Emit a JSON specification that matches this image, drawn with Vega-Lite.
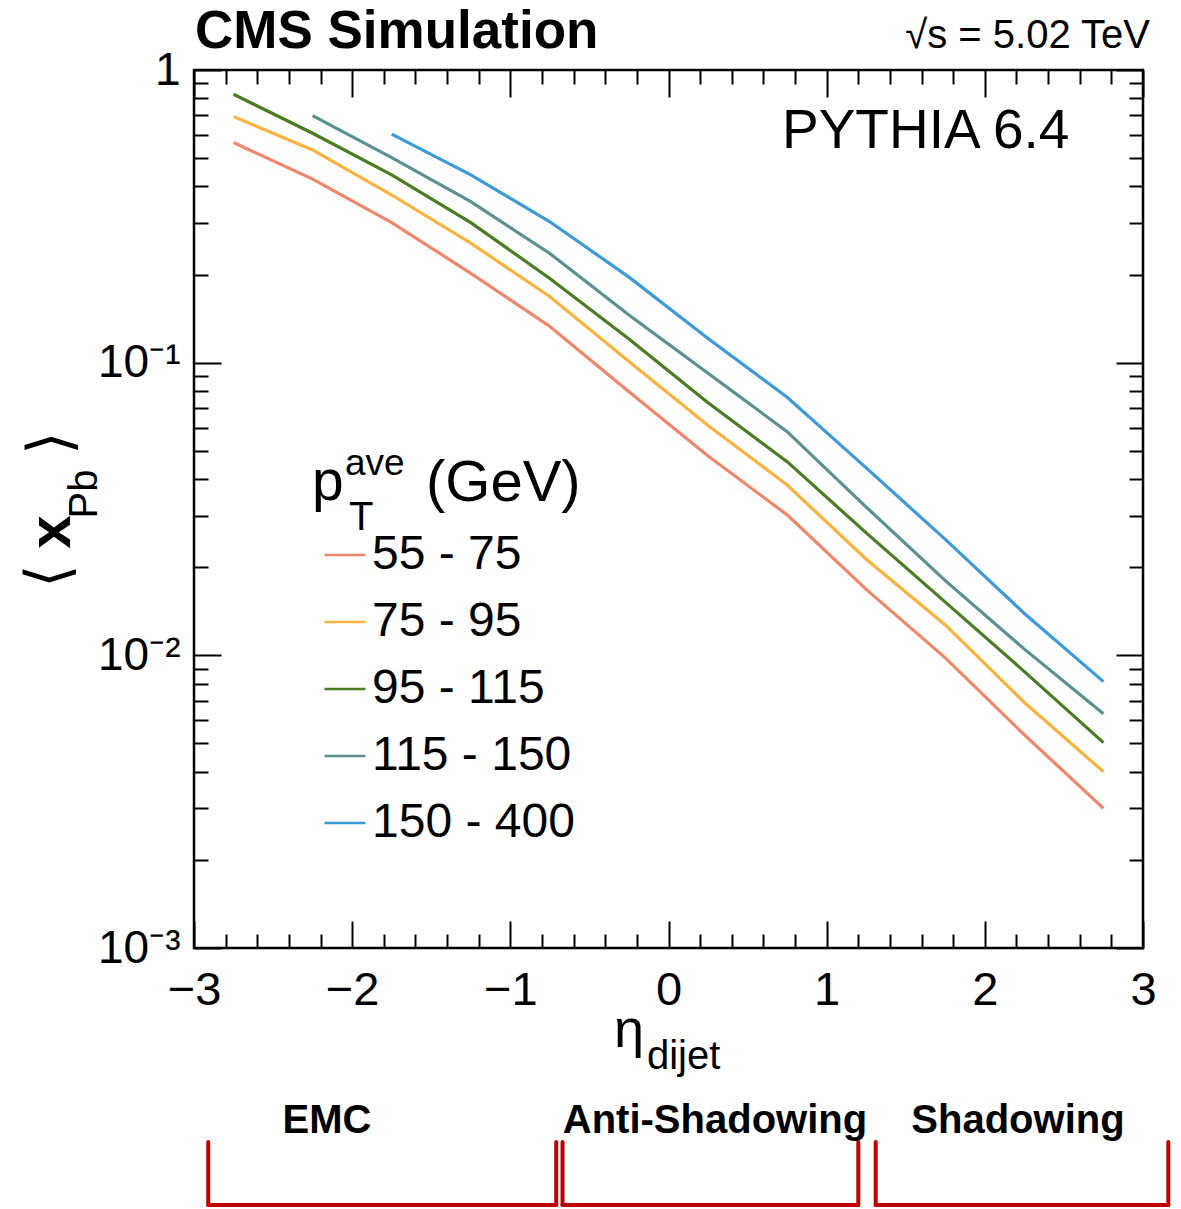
{
  "$schema": "https://vega.github.io/schema/vega-lite/v6.json",
  "width": 949,
  "height": 878,
  "autosize": "none",
  "padding": {"left": 194, "top": 70, "right": 38, "bottom": 261},
  "background": "white",
  "config": {
    "view": {"stroke": "black", "strokeWidth": 2.5},
    "font": "Liberation Sans",
    "text": {"font": "Liberation Sans", "color": "black"}
  },
  "datasets": {
    "curves": [
      {"pt": "55 - 75", "eta": -2.75, "xpb": 0.565},
      {"pt": "55 - 75", "eta": -2.25, "xpb": 0.424},
      {"pt": "55 - 75", "eta": -1.75, "xpb": 0.301},
      {"pt": "55 - 75", "eta": -1.25, "xpb": 0.202},
      {"pt": "55 - 75", "eta": -0.75, "xpb": 0.133},
      {"pt": "55 - 75", "eta": -0.25, "xpb": 0.0796},
      {"pt": "55 - 75", "eta": 0.25, "xpb": 0.048},
      {"pt": "55 - 75", "eta": 0.75, "xpb": 0.0302},
      {"pt": "55 - 75", "eta": 1.25, "xpb": 0.0168},
      {"pt": "55 - 75", "eta": 1.75, "xpb": 0.0098},
      {"pt": "55 - 75", "eta": 2.25, "xpb": 0.00535},
      {"pt": "55 - 75", "eta": 2.75, "xpb": 0.0030},
      {"pt": "75 - 95", "eta": -2.75, "xpb": 0.693},
      {"pt": "75 - 95", "eta": -2.25, "xpb": 0.533},
      {"pt": "75 - 95", "eta": -1.75, "xpb": 0.374},
      {"pt": "75 - 95", "eta": -1.25, "xpb": 0.256},
      {"pt": "75 - 95", "eta": -0.75, "xpb": 0.168},
      {"pt": "75 - 95", "eta": -0.25, "xpb": 0.101},
      {"pt": "75 - 95", "eta": 0.25, "xpb": 0.061},
      {"pt": "75 - 95", "eta": 0.75, "xpb": 0.0382},
      {"pt": "75 - 95", "eta": 1.25, "xpb": 0.0213},
      {"pt": "75 - 95", "eta": 1.75, "xpb": 0.0127},
      {"pt": "75 - 95", "eta": 2.25, "xpb": 0.0069},
      {"pt": "75 - 95", "eta": 2.75, "xpb": 0.0040},
      {"pt": "95 - 115", "eta": -2.75, "xpb": 0.826},
      {"pt": "95 - 115", "eta": -2.25, "xpb": 0.608},
      {"pt": "95 - 115", "eta": -1.75, "xpb": 0.438},
      {"pt": "95 - 115", "eta": -1.25, "xpb": 0.301},
      {"pt": "95 - 115", "eta": -0.75, "xpb": 0.194},
      {"pt": "95 - 115", "eta": -0.25, "xpb": 0.1205},
      {"pt": "95 - 115", "eta": 0.25, "xpb": 0.073},
      {"pt": "95 - 115", "eta": 0.75, "xpb": 0.0459},
      {"pt": "95 - 115", "eta": 1.25, "xpb": 0.0262},
      {"pt": "95 - 115", "eta": 1.75, "xpb": 0.0152},
      {"pt": "95 - 115", "eta": 2.25, "xpb": 0.0088},
      {"pt": "95 - 115", "eta": 2.75, "xpb": 0.00503},
      {"pt": "115 - 150", "eta": -2.25, "xpb": 0.698},
      {"pt": "115 - 150", "eta": -1.75, "xpb": 0.502},
      {"pt": "115 - 150", "eta": -1.25, "xpb": 0.355},
      {"pt": "115 - 150", "eta": -0.75, "xpb": 0.236},
      {"pt": "115 - 150", "eta": -0.25, "xpb": 0.1455},
      {"pt": "115 - 150", "eta": 0.25, "xpb": 0.092},
      {"pt": "115 - 150", "eta": 0.75, "xpb": 0.0581},
      {"pt": "115 - 150", "eta": 1.25, "xpb": 0.0321},
      {"pt": "115 - 150", "eta": 1.75, "xpb": 0.018},
      {"pt": "115 - 150", "eta": 2.25, "xpb": 0.0105},
      {"pt": "115 - 150", "eta": 2.75, "xpb": 0.00631},
      {"pt": "150 - 400", "eta": -1.75, "xpb": 0.604},
      {"pt": "150 - 400", "eta": -1.25, "xpb": 0.438},
      {"pt": "150 - 400", "eta": -0.75, "xpb": 0.303},
      {"pt": "150 - 400", "eta": -0.25, "xpb": 0.196},
      {"pt": "150 - 400", "eta": 0.25, "xpb": 0.121},
      {"pt": "150 - 400", "eta": 0.75, "xpb": 0.0762},
      {"pt": "150 - 400", "eta": 1.25, "xpb": 0.0437},
      {"pt": "150 - 400", "eta": 1.75, "xpb": 0.0249},
      {"pt": "150 - 400", "eta": 2.25, "xpb": 0.0139},
      {"pt": "150 - 400", "eta": 2.75, "xpb": 0.00813}
    ],
    "regions": [
      {"region": "EMC", "eta_from": -2.91, "eta_to": -0.71},
      {"region": "Anti-Shadowing", "eta_from": -0.67, "eta_to": 1.2},
      {"region": "Shadowing", "eta_from": 1.31, "eta_to": 3.16}
    ],
    "one": [{}]
  },
  "resolve": {"axis": {"x": "independent", "y": "independent"}},
  "layer": [
    {
      "data": {"name": "curves"},
      "mark": {"type": "line", "strokeWidth": 3.2},
      "encoding": {
        "x": {
          "field": "eta", "type": "quantitative",
          "scale": {"domain": [-3, 3], "nice": false, "zero": false},
          "axis": {
            "orient": "bottom", "title": null, "domain": false, "grid": false,
            "values": [-3, -2.8, -2.6, -2.4, -2.2, -2, -1.8, -1.6, -1.4, -1.2, -1, -0.8, -0.6, -0.4, -0.2, 0, 0.2, 0.4, 0.6, 0.8, 1, 1.2, 1.4, 1.6, 1.8, 2, 2.2, 2.4, 2.6, 2.8, 3],
            "tickSize": {"condition": {"test": "abs(datum.value - round(datum.value)) < 0.001", "value": -27}, "value": -14},
            "tickColor": "black", "tickWidth": 2,
            "labelExpr": "abs(datum.value - round(datum.value)) < 0.001 ? (round(datum.value) < 0 ? '−' + abs(round(datum.value)) : '' + round(datum.value)) : ''",
            "labelFont": "Liberation Sans", "labelFontSize": 47, "labelColor": "black",
            "labelPadding": 46, "labelFlush": false, "labelOverlap": false, "labelBound": false
          }
        },
        "y": {
          "field": "xpb", "type": "quantitative",
          "scale": {"type": "log", "domain": [0.001, 1], "nice": false},
          "axis": {
            "orient": "left", "title": null, "domain": false, "grid": false,
            "values": [0.001, 0.002, 0.003, 0.004, 0.005, 0.006, 0.007, 0.008, 0.009, 0.01, 0.02, 0.03, 0.04, 0.05, 0.06, 0.07, 0.08, 0.09, 0.1, 0.2, 0.3, 0.4, 0.5, 0.6, 0.7, 0.8, 0.9, 1],
            "tickSize": {"condition": {"test": "abs(log(datum.value)/LN10 - round(log(datum.value)/LN10)) < 0.001", "value": -27}, "value": -14},
            "tickColor": "black", "tickWidth": 2,
            "labelExpr": "abs(datum.value - 1) < 1e-6 ? '1' : abs(datum.value - 0.1) < 1e-6 ? '10⁻¹' : abs(datum.value - 0.01) < 1e-7 ? '10⁻²' : abs(datum.value - 0.001) < 1e-8 ? '10⁻³' : ''",
            "labelFont": "Liberation Sans", "labelFontSize": 46, "labelColor": "black",
            "labelPadding": 41, "labelFlush": false, "labelOverlap": false, "labelBound": false
          }
        },
        "color": {
          "field": "pt", "type": "nominal",
          "scale": {
            "domain": ["55 - 75", "75 - 95", "95 - 115", "115 - 150", "150 - 400"],
            "range": ["#f0876a", "#f9b33e", "#4a7d22", "#5a9090", "#3c9bd6"]
          },
          "legend": {
            "orient": "none", "legendX": 127, "legendY": 461, "title": null,
            "symbolType": "stroke", "symbolSize": 1681, "symbolStrokeWidth": 2.5,
            "labelFont": "Liberation Sans", "labelFontSize": 48, "labelColor": "black",
            "labelOffset": 3, "rowPadding": 19, "padding": 0, "labelLimit": 400
          }
        }
      }
    },
    {
      "data": {"values": []},
      "mark": {"type": "line"},
      "encoding": {
        "x": {
          "field": "eta", "type": "quantitative",
          "scale": {"domain": [-3, 3], "nice": false, "zero": false},
          "axis": {
            "orient": "top", "title": null, "domain": false, "grid": false, "labels": false,
            "values": [-3, -2.8, -2.6, -2.4, -2.2, -2, -1.8, -1.6, -1.4, -1.2, -1, -0.8, -0.6, -0.4, -0.2, 0, 0.2, 0.4, 0.6, 0.8, 1, 1.2, 1.4, 1.6, 1.8, 2, 2.2, 2.4, 2.6, 2.8, 3],
            "tickSize": {"condition": {"test": "abs(datum.value - round(datum.value)) < 0.001", "value": -27}, "value": -14},
            "tickColor": "black", "tickWidth": 2
          }
        },
        "y": {
          "field": "xpb", "type": "quantitative",
          "scale": {"type": "log", "domain": [0.001, 1], "nice": false},
          "axis": {
            "orient": "right", "title": null, "domain": false, "grid": false, "labels": false,
            "values": [0.001, 0.002, 0.003, 0.004, 0.005, 0.006, 0.007, 0.008, 0.009, 0.01, 0.02, 0.03, 0.04, 0.05, 0.06, 0.07, 0.08, 0.09, 0.1, 0.2, 0.3, 0.4, 0.5, 0.6, 0.7, 0.8, 0.9, 1],
            "tickSize": {"condition": {"test": "abs(log(datum.value)/LN10 - round(log(datum.value)/LN10)) < 0.001", "value": -27}, "value": -14},
            "tickColor": "black", "tickWidth": 2
          }
        }
      }
    },
    {
      "data": {"name": "regions"},
      "mark": {"type": "rule", "color": "#c00000", "strokeWidth": 4, "strokeCap": "round"},
      "encoding": {
        "x": {"field": "eta_from", "type": "quantitative", "axis": null},
        "y": {"datum": 0.0002174, "type": "quantitative", "scale": {"type": "log"}, "axis": null},
        "y2": {"datum": 0.00013235}
      }
    },
    {
      "data": {"name": "regions"},
      "mark": {"type": "rule", "color": "#c00000", "strokeWidth": 4, "strokeCap": "round"},
      "encoding": {
        "x": {"field": "eta_to", "type": "quantitative", "axis": null},
        "y": {"datum": 0.0002174, "type": "quantitative", "scale": {"type": "log"}, "axis": null},
        "y2": {"datum": 0.00013235}
      }
    },
    {
      "data": {"name": "regions"},
      "mark": {"type": "rule", "color": "#c00000", "strokeWidth": 4, "strokeCap": "round"},
      "encoding": {
        "x": {"field": "eta_from", "type": "quantitative", "axis": null},
        "x2": {"field": "eta_to"},
        "y": {"datum": 0.00013235, "type": "quantitative", "scale": {"type": "log"}, "axis": null}
      }
    },
    {
      "data": {"name": "one"},
      "mark": {"type": "text", "text": "CMS Simulation", "fontSize": 53, "fontWeight": "bold", "align": "left", "baseline": "alphabetic"},
      "encoding": {
        "x": {"datum": -2.9937, "type": "quantitative", "axis": null},
        "y": {"datum": 1.189, "type": "quantitative", "scale": {"type": "log"}, "axis": null}
      }
    },
    {
      "data": {"name": "one"},
      "mark": {"type": "text", "text": "√s = 5.02 TeV", "fontSize": 40, "align": "right", "baseline": "alphabetic"},
      "encoding": {
        "x": {"datum": 3.0441, "type": "quantitative", "axis": null},
        "y": {"datum": 1.189, "type": "quantitative", "scale": {"type": "log"}, "axis": null}
      }
    },
    {
      "data": {"name": "one"},
      "mark": {"type": "text", "text": "PYTHIA 6.4", "fontSize": 55, "align": "left", "baseline": "alphabetic"},
      "encoding": {
        "x": {"datum": 0.7176, "type": "quantitative", "axis": null},
        "y": {"datum": 0.5414, "type": "quantitative", "scale": {"type": "log"}, "axis": null}
      }
    },
    {
      "data": {"name": "one"},
      "mark": {"type": "text", "text": "p", "fontSize": 57, "align": "left", "baseline": "alphabetic"},
      "encoding": {
        "x": {"datum": -2.254, "type": "quantitative", "axis": null},
        "y": {"datum": 0.03395, "type": "quantitative", "scale": {"type": "log"}, "axis": null}
      }
    },
    {
      "data": {"name": "one"},
      "mark": {"type": "text", "text": "T", "fontSize": 40, "align": "left", "baseline": "alphabetic"},
      "encoding": {
        "x": {"datum": -2.02, "type": "quantitative", "axis": null},
        "y": {"datum": 0.02682, "type": "quantitative", "scale": {"type": "log"}, "axis": null}
      }
    },
    {
      "data": {"name": "one"},
      "mark": {"type": "text", "text": "ave", "fontSize": 37, "align": "left", "baseline": "alphabetic"},
      "encoding": {
        "x": {"datum": -2.0453, "type": "quantitative", "axis": null},
        "y": {"datum": 0.04132, "type": "quantitative", "scale": {"type": "log"}, "axis": null}
      }
    },
    {
      "data": {"name": "one"},
      "mark": {"type": "text", "text": "(GeV)", "fontSize": 58, "align": "left", "baseline": "alphabetic"},
      "encoding": {
        "x": {"datum": -1.5332, "type": "quantitative", "axis": null},
        "y": {"datum": 0.03369, "type": "quantitative", "scale": {"type": "log"}, "axis": null}
      }
    },
    {
      "data": {"name": "one"},
      "mark": {"type": "text", "text": "η", "fontSize": 54, "align": "left", "baseline": "alphabetic"},
      "encoding": {
        "x": {"datum": -0.3446, "type": "quantitative", "axis": null},
        "y": {"datum": 0.0004589, "type": "quantitative", "scale": {"type": "log"}, "axis": null}
      }
    },
    {
      "data": {"name": "one"},
      "mark": {"type": "text", "text": "dijet", "fontSize": 40, "align": "left", "baseline": "alphabetic"},
      "encoding": {
        "x": {"datum": -0.136, "type": "quantitative", "axis": null},
        "y": {"datum": 0.000386, "type": "quantitative", "scale": {"type": "log"}, "axis": null}
      }
    },
    {
      "data": {"name": "one"},
      "mark": {"type": "text", "text": "⟨", "font": "DejaVu Sans", "fontSize": 60, "angle": 270, "align": "center", "baseline": "middle"},
      "encoding": {
        "x": {"datum": -3.91, "type": "quantitative", "axis": null},
        "y": {"datum": 0.01867, "type": "quantitative", "scale": {"type": "log"}, "axis": null}
      }
    },
    {
      "data": {"name": "one"},
      "mark": {"type": "text", "text": "x", "fontSize": 60, "fontWeight": "bold", "angle": 270, "align": "center", "baseline": "alphabetic"},
      "encoding": {
        "x": {"datum": -3.784, "type": "quantitative", "axis": null},
        "y": {"datum": 0.02638, "type": "quantitative", "scale": {"type": "log"}, "axis": null}
      }
    },
    {
      "data": {"name": "one"},
      "mark": {"type": "text", "text": "Pb", "fontSize": 40, "angle": 270, "align": "center", "baseline": "alphabetic"},
      "encoding": {
        "x": {"datum": -3.613, "type": "quantitative", "axis": null},
        "y": {"datum": 0.03558, "type": "quantitative", "scale": {"type": "log"}, "axis": null}
      }
    },
    {
      "data": {"name": "one"},
      "mark": {"type": "text", "text": "⟩", "font": "DejaVu Sans", "fontSize": 60, "angle": 270, "align": "center", "baseline": "middle"},
      "encoding": {
        "x": {"datum": -3.898, "type": "quantitative", "axis": null},
        "y": {"datum": 0.05314, "type": "quantitative", "scale": {"type": "log"}, "axis": null}
      }
    },
    {
      "data": {"name": "one"},
      "mark": {"type": "text", "text": "EMC", "fontSize": 40, "fontWeight": "bold", "align": "center", "baseline": "alphabetic"},
      "encoding": {
        "x": {"datum": -2.1591, "type": "quantitative", "axis": null},
        "y": {"datum": 0.0002333, "type": "quantitative", "scale": {"type": "log"}, "axis": null}
      }
    },
    {
      "data": {"name": "one"},
      "mark": {"type": "text", "text": "Anti-Shadowing", "fontSize": 40, "fontWeight": "bold", "align": "center", "baseline": "alphabetic"},
      "encoding": {
        "x": {"datum": 0.294, "type": "quantitative", "axis": null},
        "y": {"datum": 0.0002333, "type": "quantitative", "scale": {"type": "log"}, "axis": null}
      }
    },
    {
      "data": {"name": "one"},
      "mark": {"type": "text", "text": "Shadowing", "fontSize": 40, "fontWeight": "bold", "align": "center", "baseline": "alphabetic"},
      "encoding": {
        "x": {"datum": 2.2096, "type": "quantitative", "axis": null},
        "y": {"datum": 0.0002333, "type": "quantitative", "scale": {"type": "log"}, "axis": null}
      }
    }
  ]
}
